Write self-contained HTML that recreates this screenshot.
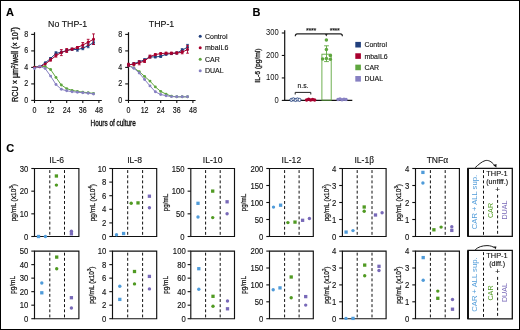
<!DOCTYPE html>
<html><head><meta charset="utf-8"><style>
html,body{margin:0;padding:0;background:#fff;}
svg{display:block;font-family:"Liberation Sans", sans-serif;will-change:transform;fill:#111;}
</style></head><body>
<svg width="520" height="330" viewBox="0 0 520 330">
<rect x="0" y="0" width="520" height="330" fill="#fff"/>
<text x="6.10" y="16.10" font-size="11" fill="#000" stroke="#000" stroke-width="0.12" font-weight="bold" >A</text>
<text x="252.60" y="16.10" font-size="11" fill="#000" stroke="#000" stroke-width="0.12" font-weight="bold" >B</text>
<text x="6.20" y="152.20" font-size="11" fill="#000" stroke="#000" stroke-width="0.12" font-weight="bold" >C</text>
<text transform="translate(67.60,26.90) scale(1,1.07)" font-size="8.8" text-anchor="middle" stroke="#111" stroke-width="0.12" >No THP-1</text>
<line x1="34.50" y1="32.20" x2="34.50" y2="101.00" stroke="#111" stroke-width="1.2" />
<line x1="33.90" y1="100.50" x2="101.80" y2="100.50" stroke="#111" stroke-width="1.2" />
<line x1="31.20" y1="100.40" x2="34.50" y2="100.40" stroke="#111" stroke-width="1.1" />
<text transform="translate(28.20,102.80) scale(1,1.2)" font-size="7.1" text-anchor="end" stroke="#111" stroke-width="0.12" >0</text>
<line x1="31.20" y1="83.90" x2="34.50" y2="83.90" stroke="#111" stroke-width="1.1" />
<text transform="translate(28.20,86.30) scale(1,1.2)" font-size="7.1" text-anchor="end" stroke="#111" stroke-width="0.12" >2</text>
<line x1="31.20" y1="67.40" x2="34.50" y2="67.40" stroke="#111" stroke-width="1.1" />
<text transform="translate(28.20,69.80) scale(1,1.2)" font-size="7.1" text-anchor="end" stroke="#111" stroke-width="0.12" >4</text>
<line x1="31.20" y1="50.90" x2="34.50" y2="50.90" stroke="#111" stroke-width="1.1" />
<text transform="translate(28.20,53.30) scale(1,1.2)" font-size="7.1" text-anchor="end" stroke="#111" stroke-width="0.12" >6</text>
<line x1="31.20" y1="34.40" x2="34.50" y2="34.40" stroke="#111" stroke-width="1.1" />
<text transform="translate(28.20,36.80) scale(1,1.2)" font-size="7.1" text-anchor="end" stroke="#111" stroke-width="0.12" >8</text>
<line x1="34.50" y1="100.50" x2="34.50" y2="103.00" stroke="#111" stroke-width="1.1" />
<text transform="translate(34.50,113.20) scale(1,1.2)" font-size="7.1" text-anchor="middle" stroke="#111" stroke-width="0.12" >0</text>
<line x1="50.60" y1="100.50" x2="50.60" y2="103.00" stroke="#111" stroke-width="1.1" />
<text transform="translate(50.60,113.20) scale(1,1.2)" font-size="7.1" text-anchor="middle" stroke="#111" stroke-width="0.12" >12</text>
<line x1="66.70" y1="100.50" x2="66.70" y2="103.00" stroke="#111" stroke-width="1.1" />
<text transform="translate(66.70,113.20) scale(1,1.2)" font-size="7.1" text-anchor="middle" stroke="#111" stroke-width="0.12" >24</text>
<line x1="82.80" y1="100.50" x2="82.80" y2="103.00" stroke="#111" stroke-width="1.1" />
<text transform="translate(82.80,113.20) scale(1,1.2)" font-size="7.1" text-anchor="middle" stroke="#111" stroke-width="0.12" >36</text>
<line x1="98.90" y1="100.50" x2="98.90" y2="103.00" stroke="#111" stroke-width="1.1" />
<text transform="translate(98.90,113.20) scale(1,1.2)" font-size="7.1" text-anchor="middle" stroke="#111" stroke-width="0.12" >48</text>
<polyline points="34.50,67.20 39.87,66.60 45.23,66.50 50.60,69.50 55.97,77.40 61.33,85.00 66.70,88.60 72.07,90.40 77.43,91.40 82.80,92.20 88.17,92.70 93.53,93.40" fill="none" stroke="#5fa63f" stroke-width="1"/>
<circle cx="34.50" cy="67.20" r="1.45" fill="#5fa63f"/>
<circle cx="39.87" cy="66.60" r="1.45" fill="#5fa63f"/>
<circle cx="45.23" cy="66.50" r="1.45" fill="#5fa63f"/>
<circle cx="50.60" cy="69.50" r="1.45" fill="#5fa63f"/>
<circle cx="55.97" cy="77.40" r="1.45" fill="#5fa63f"/>
<circle cx="61.33" cy="85.00" r="1.45" fill="#5fa63f"/>
<circle cx="66.70" cy="88.60" r="1.45" fill="#5fa63f"/>
<circle cx="72.07" cy="90.40" r="1.45" fill="#5fa63f"/>
<circle cx="77.43" cy="91.40" r="1.45" fill="#5fa63f"/>
<circle cx="82.80" cy="92.20" r="1.45" fill="#5fa63f"/>
<circle cx="88.17" cy="92.70" r="1.45" fill="#5fa63f"/>
<circle cx="93.53" cy="93.40" r="1.45" fill="#5fa63f"/>
<polyline points="34.50,67.40 39.87,66.70 45.23,62.80 50.60,58.50 55.97,53.30 61.33,52.30 66.70,50.50 72.07,49.30 77.43,49.60 82.80,48.20 88.17,45.70 93.53,42.70" fill="none" stroke="#213f7d" stroke-width="1"/>
<line x1="50.60" y1="57.50" x2="50.60" y2="59.50" stroke="#213f7d" stroke-width="0.9" />
<line x1="49.20" y1="57.50" x2="52.00" y2="57.50" stroke="#213f7d" stroke-width="0.9" />
<line x1="49.20" y1="59.50" x2="52.00" y2="59.50" stroke="#213f7d" stroke-width="0.9" />
<line x1="55.97" y1="51.80" x2="55.97" y2="54.80" stroke="#213f7d" stroke-width="0.9" />
<line x1="54.57" y1="51.80" x2="57.37" y2="51.80" stroke="#213f7d" stroke-width="0.9" />
<line x1="54.57" y1="54.80" x2="57.37" y2="54.80" stroke="#213f7d" stroke-width="0.9" />
<line x1="61.33" y1="51.30" x2="61.33" y2="53.30" stroke="#213f7d" stroke-width="0.9" />
<line x1="59.93" y1="51.30" x2="62.73" y2="51.30" stroke="#213f7d" stroke-width="0.9" />
<line x1="59.93" y1="53.30" x2="62.73" y2="53.30" stroke="#213f7d" stroke-width="0.9" />
<line x1="66.70" y1="49.50" x2="66.70" y2="51.50" stroke="#213f7d" stroke-width="0.9" />
<line x1="65.30" y1="49.50" x2="68.10" y2="49.50" stroke="#213f7d" stroke-width="0.9" />
<line x1="65.30" y1="51.50" x2="68.10" y2="51.50" stroke="#213f7d" stroke-width="0.9" />
<line x1="72.07" y1="48.30" x2="72.07" y2="50.30" stroke="#213f7d" stroke-width="0.9" />
<line x1="70.67" y1="48.30" x2="73.47" y2="48.30" stroke="#213f7d" stroke-width="0.9" />
<line x1="70.67" y1="50.30" x2="73.47" y2="50.30" stroke="#213f7d" stroke-width="0.9" />
<line x1="77.43" y1="48.10" x2="77.43" y2="51.10" stroke="#213f7d" stroke-width="0.9" />
<line x1="76.03" y1="48.10" x2="78.83" y2="48.10" stroke="#213f7d" stroke-width="0.9" />
<line x1="76.03" y1="51.10" x2="78.83" y2="51.10" stroke="#213f7d" stroke-width="0.9" />
<line x1="82.80" y1="46.70" x2="82.80" y2="49.70" stroke="#213f7d" stroke-width="0.9" />
<line x1="81.40" y1="46.70" x2="84.20" y2="46.70" stroke="#213f7d" stroke-width="0.9" />
<line x1="81.40" y1="49.70" x2="84.20" y2="49.70" stroke="#213f7d" stroke-width="0.9" />
<line x1="88.17" y1="43.70" x2="88.17" y2="47.70" stroke="#213f7d" stroke-width="0.9" />
<line x1="86.77" y1="43.70" x2="89.57" y2="43.70" stroke="#213f7d" stroke-width="0.9" />
<line x1="86.77" y1="47.70" x2="89.57" y2="47.70" stroke="#213f7d" stroke-width="0.9" />
<line x1="93.53" y1="40.90" x2="93.53" y2="44.50" stroke="#213f7d" stroke-width="0.9" />
<line x1="92.13" y1="40.90" x2="94.93" y2="40.90" stroke="#213f7d" stroke-width="0.9" />
<line x1="92.13" y1="44.50" x2="94.93" y2="44.50" stroke="#213f7d" stroke-width="0.9" />
<circle cx="34.50" cy="67.40" r="1.45" fill="#213f7d"/>
<circle cx="39.87" cy="66.70" r="1.45" fill="#213f7d"/>
<circle cx="45.23" cy="62.80" r="1.45" fill="#213f7d"/>
<circle cx="50.60" cy="58.50" r="1.45" fill="#213f7d"/>
<circle cx="55.97" cy="53.30" r="1.45" fill="#213f7d"/>
<circle cx="61.33" cy="52.30" r="1.45" fill="#213f7d"/>
<circle cx="66.70" cy="50.50" r="1.45" fill="#213f7d"/>
<circle cx="72.07" cy="49.30" r="1.45" fill="#213f7d"/>
<circle cx="77.43" cy="49.60" r="1.45" fill="#213f7d"/>
<circle cx="82.80" cy="48.20" r="1.45" fill="#213f7d"/>
<circle cx="88.17" cy="45.70" r="1.45" fill="#213f7d"/>
<circle cx="93.53" cy="42.70" r="1.45" fill="#213f7d"/>
<polyline points="34.50,67.40 39.87,66.80 45.23,64.10 50.60,60.00 55.97,55.60 61.33,52.60 66.70,50.50 72.07,49.10 77.43,47.50 82.80,45.00 88.17,42.30 93.53,39.20" fill="none" stroke="#a8002e" stroke-width="1"/>
<line x1="50.60" y1="59.00" x2="50.60" y2="61.00" stroke="#a8002e" stroke-width="0.9" />
<line x1="49.20" y1="59.00" x2="52.00" y2="59.00" stroke="#a8002e" stroke-width="0.9" />
<line x1="49.20" y1="61.00" x2="52.00" y2="61.00" stroke="#a8002e" stroke-width="0.9" />
<line x1="55.97" y1="54.10" x2="55.97" y2="57.10" stroke="#a8002e" stroke-width="0.9" />
<line x1="54.57" y1="54.10" x2="57.37" y2="54.10" stroke="#a8002e" stroke-width="0.9" />
<line x1="54.57" y1="57.10" x2="57.37" y2="57.10" stroke="#a8002e" stroke-width="0.9" />
<line x1="61.33" y1="49.60" x2="61.33" y2="55.60" stroke="#a8002e" stroke-width="0.9" />
<line x1="59.93" y1="49.60" x2="62.73" y2="49.60" stroke="#a8002e" stroke-width="0.9" />
<line x1="59.93" y1="55.60" x2="62.73" y2="55.60" stroke="#a8002e" stroke-width="0.9" />
<line x1="66.70" y1="48.50" x2="66.70" y2="52.50" stroke="#a8002e" stroke-width="0.9" />
<line x1="65.30" y1="48.50" x2="68.10" y2="48.50" stroke="#a8002e" stroke-width="0.9" />
<line x1="65.30" y1="52.50" x2="68.10" y2="52.50" stroke="#a8002e" stroke-width="0.9" />
<line x1="72.07" y1="48.10" x2="72.07" y2="50.10" stroke="#a8002e" stroke-width="0.9" />
<line x1="70.67" y1="48.10" x2="73.47" y2="48.10" stroke="#a8002e" stroke-width="0.9" />
<line x1="70.67" y1="50.10" x2="73.47" y2="50.10" stroke="#a8002e" stroke-width="0.9" />
<line x1="77.43" y1="46.50" x2="77.43" y2="48.50" stroke="#a8002e" stroke-width="0.9" />
<line x1="76.03" y1="46.50" x2="78.83" y2="46.50" stroke="#a8002e" stroke-width="0.9" />
<line x1="76.03" y1="48.50" x2="78.83" y2="48.50" stroke="#a8002e" stroke-width="0.9" />
<line x1="82.80" y1="42.50" x2="82.80" y2="47.50" stroke="#a8002e" stroke-width="0.9" />
<line x1="81.40" y1="42.50" x2="84.20" y2="42.50" stroke="#a8002e" stroke-width="0.9" />
<line x1="81.40" y1="47.50" x2="84.20" y2="47.50" stroke="#a8002e" stroke-width="0.9" />
<line x1="88.17" y1="39.30" x2="88.17" y2="45.30" stroke="#a8002e" stroke-width="0.9" />
<line x1="86.77" y1="39.30" x2="89.57" y2="39.30" stroke="#a8002e" stroke-width="0.9" />
<line x1="86.77" y1="45.30" x2="89.57" y2="45.30" stroke="#a8002e" stroke-width="0.9" />
<line x1="93.53" y1="33.90" x2="93.53" y2="44.50" stroke="#a8002e" stroke-width="0.9" />
<line x1="92.13" y1="33.90" x2="94.93" y2="33.90" stroke="#a8002e" stroke-width="0.9" />
<line x1="92.13" y1="44.50" x2="94.93" y2="44.50" stroke="#a8002e" stroke-width="0.9" />
<circle cx="34.50" cy="67.40" r="1.45" fill="#a8002e"/>
<circle cx="39.87" cy="66.80" r="1.45" fill="#a8002e"/>
<circle cx="45.23" cy="64.10" r="1.45" fill="#a8002e"/>
<circle cx="50.60" cy="60.00" r="1.45" fill="#a8002e"/>
<circle cx="55.97" cy="55.60" r="1.45" fill="#a8002e"/>
<circle cx="61.33" cy="52.60" r="1.45" fill="#a8002e"/>
<circle cx="66.70" cy="50.50" r="1.45" fill="#a8002e"/>
<circle cx="72.07" cy="49.10" r="1.45" fill="#a8002e"/>
<circle cx="77.43" cy="47.50" r="1.45" fill="#a8002e"/>
<circle cx="82.80" cy="45.00" r="1.45" fill="#a8002e"/>
<circle cx="88.17" cy="42.30" r="1.45" fill="#a8002e"/>
<circle cx="93.53" cy="39.20" r="1.45" fill="#a8002e"/>
<polyline points="34.50,68.50 39.87,66.30 45.23,68.60 50.60,76.10 55.97,84.50 61.33,89.30 66.70,90.80 72.07,91.70 77.43,92.30 82.80,92.70 88.17,93.20 93.53,94.00" fill="none" stroke="#8780c2" stroke-width="1"/>
<circle cx="34.50" cy="68.50" r="1.45" fill="#8780c2"/>
<circle cx="39.87" cy="66.30" r="1.45" fill="#8780c2"/>
<circle cx="45.23" cy="68.60" r="1.45" fill="#8780c2"/>
<circle cx="50.60" cy="76.10" r="1.45" fill="#8780c2"/>
<circle cx="55.97" cy="84.50" r="1.45" fill="#8780c2"/>
<circle cx="61.33" cy="89.30" r="1.45" fill="#8780c2"/>
<circle cx="66.70" cy="90.80" r="1.45" fill="#8780c2"/>
<circle cx="72.07" cy="91.70" r="1.45" fill="#8780c2"/>
<circle cx="77.43" cy="92.30" r="1.45" fill="#8780c2"/>
<circle cx="82.80" cy="92.70" r="1.45" fill="#8780c2"/>
<circle cx="88.17" cy="93.20" r="1.45" fill="#8780c2"/>
<circle cx="93.53" cy="94.00" r="1.45" fill="#8780c2"/>
<text transform="translate(161.50,26.90) scale(1,1.07)" font-size="8.8" text-anchor="middle" stroke="#111" stroke-width="0.12" >THP-1</text>
<line x1="128.50" y1="32.20" x2="128.50" y2="101.00" stroke="#111" stroke-width="1.2" />
<line x1="127.90" y1="100.50" x2="195.60" y2="100.50" stroke="#111" stroke-width="1.2" />
<line x1="125.20" y1="100.40" x2="128.50" y2="100.40" stroke="#111" stroke-width="1.1" />
<text transform="translate(122.20,102.80) scale(1,1.2)" font-size="7.1" text-anchor="end" stroke="#111" stroke-width="0.12" >0</text>
<line x1="125.20" y1="83.90" x2="128.50" y2="83.90" stroke="#111" stroke-width="1.1" />
<text transform="translate(122.20,86.30) scale(1,1.2)" font-size="7.1" text-anchor="end" stroke="#111" stroke-width="0.12" >2</text>
<line x1="125.20" y1="67.40" x2="128.50" y2="67.40" stroke="#111" stroke-width="1.1" />
<text transform="translate(122.20,69.80) scale(1,1.2)" font-size="7.1" text-anchor="end" stroke="#111" stroke-width="0.12" >4</text>
<line x1="125.20" y1="50.90" x2="128.50" y2="50.90" stroke="#111" stroke-width="1.1" />
<text transform="translate(122.20,53.30) scale(1,1.2)" font-size="7.1" text-anchor="end" stroke="#111" stroke-width="0.12" >6</text>
<line x1="125.20" y1="34.40" x2="128.50" y2="34.40" stroke="#111" stroke-width="1.1" />
<text transform="translate(122.20,36.80) scale(1,1.2)" font-size="7.1" text-anchor="end" stroke="#111" stroke-width="0.12" >8</text>
<line x1="128.50" y1="100.50" x2="128.50" y2="103.00" stroke="#111" stroke-width="1.1" />
<text transform="translate(128.50,113.20) scale(1,1.2)" font-size="7.1" text-anchor="middle" stroke="#111" stroke-width="0.12" >0</text>
<line x1="144.60" y1="100.50" x2="144.60" y2="103.00" stroke="#111" stroke-width="1.1" />
<text transform="translate(144.60,113.20) scale(1,1.2)" font-size="7.1" text-anchor="middle" stroke="#111" stroke-width="0.12" >12</text>
<line x1="160.70" y1="100.50" x2="160.70" y2="103.00" stroke="#111" stroke-width="1.1" />
<text transform="translate(160.70,113.20) scale(1,1.2)" font-size="7.1" text-anchor="middle" stroke="#111" stroke-width="0.12" >24</text>
<line x1="176.80" y1="100.50" x2="176.80" y2="103.00" stroke="#111" stroke-width="1.1" />
<text transform="translate(176.80,113.20) scale(1,1.2)" font-size="7.1" text-anchor="middle" stroke="#111" stroke-width="0.12" >36</text>
<line x1="192.90" y1="100.50" x2="192.90" y2="103.00" stroke="#111" stroke-width="1.1" />
<text transform="translate(192.90,113.20) scale(1,1.2)" font-size="7.1" text-anchor="middle" stroke="#111" stroke-width="0.12" >48</text>
<polyline points="128.50,65.50 133.87,67.90 139.23,71.60 144.60,76.40 149.97,81.10 155.33,86.90 160.70,91.40 166.07,94.10 171.43,96.20 176.80,96.80 182.17,96.80 187.53,96.80" fill="none" stroke="#5fa63f" stroke-width="1"/>
<circle cx="128.50" cy="65.50" r="1.45" fill="#5fa63f"/>
<circle cx="133.87" cy="67.90" r="1.45" fill="#5fa63f"/>
<circle cx="139.23" cy="71.60" r="1.45" fill="#5fa63f"/>
<circle cx="144.60" cy="76.40" r="1.45" fill="#5fa63f"/>
<circle cx="149.97" cy="81.10" r="1.45" fill="#5fa63f"/>
<circle cx="155.33" cy="86.90" r="1.45" fill="#5fa63f"/>
<circle cx="160.70" cy="91.40" r="1.45" fill="#5fa63f"/>
<circle cx="166.07" cy="94.10" r="1.45" fill="#5fa63f"/>
<circle cx="171.43" cy="96.20" r="1.45" fill="#5fa63f"/>
<circle cx="176.80" cy="96.80" r="1.45" fill="#5fa63f"/>
<circle cx="182.17" cy="96.80" r="1.45" fill="#5fa63f"/>
<circle cx="187.53" cy="96.80" r="1.45" fill="#5fa63f"/>
<polyline points="128.50,65.70 133.87,68.20 139.23,73.00 144.60,79.50 149.97,85.90 155.33,91.80 160.70,94.50 166.07,95.70 171.43,96.60 176.80,96.80 182.17,96.80 187.53,96.80" fill="none" stroke="#8780c2" stroke-width="1"/>
<circle cx="128.50" cy="65.70" r="1.45" fill="#8780c2"/>
<circle cx="133.87" cy="68.20" r="1.45" fill="#8780c2"/>
<circle cx="139.23" cy="73.00" r="1.45" fill="#8780c2"/>
<circle cx="144.60" cy="79.50" r="1.45" fill="#8780c2"/>
<circle cx="149.97" cy="85.90" r="1.45" fill="#8780c2"/>
<circle cx="155.33" cy="91.80" r="1.45" fill="#8780c2"/>
<circle cx="160.70" cy="94.50" r="1.45" fill="#8780c2"/>
<circle cx="166.07" cy="95.70" r="1.45" fill="#8780c2"/>
<circle cx="171.43" cy="96.60" r="1.45" fill="#8780c2"/>
<circle cx="176.80" cy="96.80" r="1.45" fill="#8780c2"/>
<circle cx="182.17" cy="96.80" r="1.45" fill="#8780c2"/>
<circle cx="187.53" cy="96.80" r="1.45" fill="#8780c2"/>
<polyline points="128.50,65.10 133.87,63.70 139.23,61.80 144.60,59.80 149.97,56.90 155.33,56.90 160.70,56.40 166.07,54.20 171.43,53.60 176.80,53.00 182.17,50.20 187.53,47.20" fill="none" stroke="#213f7d" stroke-width="1"/>
<line x1="128.50" y1="64.10" x2="128.50" y2="66.10" stroke="#213f7d" stroke-width="0.9" />
<line x1="127.10" y1="64.10" x2="129.90" y2="64.10" stroke="#213f7d" stroke-width="0.9" />
<line x1="127.10" y1="66.10" x2="129.90" y2="66.10" stroke="#213f7d" stroke-width="0.9" />
<line x1="133.87" y1="62.70" x2="133.87" y2="64.70" stroke="#213f7d" stroke-width="0.9" />
<line x1="132.47" y1="62.70" x2="135.27" y2="62.70" stroke="#213f7d" stroke-width="0.9" />
<line x1="132.47" y1="64.70" x2="135.27" y2="64.70" stroke="#213f7d" stroke-width="0.9" />
<line x1="139.23" y1="60.80" x2="139.23" y2="62.80" stroke="#213f7d" stroke-width="0.9" />
<line x1="137.83" y1="60.80" x2="140.63" y2="60.80" stroke="#213f7d" stroke-width="0.9" />
<line x1="137.83" y1="62.80" x2="140.63" y2="62.80" stroke="#213f7d" stroke-width="0.9" />
<line x1="144.60" y1="58.80" x2="144.60" y2="60.80" stroke="#213f7d" stroke-width="0.9" />
<line x1="143.20" y1="58.80" x2="146.00" y2="58.80" stroke="#213f7d" stroke-width="0.9" />
<line x1="143.20" y1="60.80" x2="146.00" y2="60.80" stroke="#213f7d" stroke-width="0.9" />
<line x1="149.97" y1="55.90" x2="149.97" y2="57.90" stroke="#213f7d" stroke-width="0.9" />
<line x1="148.57" y1="55.90" x2="151.37" y2="55.90" stroke="#213f7d" stroke-width="0.9" />
<line x1="148.57" y1="57.90" x2="151.37" y2="57.90" stroke="#213f7d" stroke-width="0.9" />
<line x1="155.33" y1="55.90" x2="155.33" y2="57.90" stroke="#213f7d" stroke-width="0.9" />
<line x1="153.93" y1="55.90" x2="156.73" y2="55.90" stroke="#213f7d" stroke-width="0.9" />
<line x1="153.93" y1="57.90" x2="156.73" y2="57.90" stroke="#213f7d" stroke-width="0.9" />
<line x1="160.70" y1="55.40" x2="160.70" y2="57.40" stroke="#213f7d" stroke-width="0.9" />
<line x1="159.30" y1="55.40" x2="162.10" y2="55.40" stroke="#213f7d" stroke-width="0.9" />
<line x1="159.30" y1="57.40" x2="162.10" y2="57.40" stroke="#213f7d" stroke-width="0.9" />
<line x1="166.07" y1="53.20" x2="166.07" y2="55.20" stroke="#213f7d" stroke-width="0.9" />
<line x1="164.67" y1="53.20" x2="167.47" y2="53.20" stroke="#213f7d" stroke-width="0.9" />
<line x1="164.67" y1="55.20" x2="167.47" y2="55.20" stroke="#213f7d" stroke-width="0.9" />
<line x1="171.43" y1="52.60" x2="171.43" y2="54.60" stroke="#213f7d" stroke-width="0.9" />
<line x1="170.03" y1="52.60" x2="172.83" y2="52.60" stroke="#213f7d" stroke-width="0.9" />
<line x1="170.03" y1="54.60" x2="172.83" y2="54.60" stroke="#213f7d" stroke-width="0.9" />
<line x1="176.80" y1="52.00" x2="176.80" y2="54.00" stroke="#213f7d" stroke-width="0.9" />
<line x1="175.40" y1="52.00" x2="178.20" y2="52.00" stroke="#213f7d" stroke-width="0.9" />
<line x1="175.40" y1="54.00" x2="178.20" y2="54.00" stroke="#213f7d" stroke-width="0.9" />
<line x1="182.17" y1="48.70" x2="182.17" y2="51.70" stroke="#213f7d" stroke-width="0.9" />
<line x1="180.77" y1="48.70" x2="183.57" y2="48.70" stroke="#213f7d" stroke-width="0.9" />
<line x1="180.77" y1="51.70" x2="183.57" y2="51.70" stroke="#213f7d" stroke-width="0.9" />
<line x1="187.53" y1="44.40" x2="187.53" y2="50.00" stroke="#213f7d" stroke-width="0.9" />
<line x1="186.13" y1="44.40" x2="188.93" y2="44.40" stroke="#213f7d" stroke-width="0.9" />
<line x1="186.13" y1="50.00" x2="188.93" y2="50.00" stroke="#213f7d" stroke-width="0.9" />
<circle cx="128.50" cy="65.10" r="1.45" fill="#213f7d"/>
<circle cx="133.87" cy="63.70" r="1.45" fill="#213f7d"/>
<circle cx="139.23" cy="61.80" r="1.45" fill="#213f7d"/>
<circle cx="144.60" cy="59.80" r="1.45" fill="#213f7d"/>
<circle cx="149.97" cy="56.90" r="1.45" fill="#213f7d"/>
<circle cx="155.33" cy="56.90" r="1.45" fill="#213f7d"/>
<circle cx="160.70" cy="56.40" r="1.45" fill="#213f7d"/>
<circle cx="166.07" cy="54.20" r="1.45" fill="#213f7d"/>
<circle cx="171.43" cy="53.60" r="1.45" fill="#213f7d"/>
<circle cx="176.80" cy="53.00" r="1.45" fill="#213f7d"/>
<circle cx="182.17" cy="50.20" r="1.45" fill="#213f7d"/>
<circle cx="187.53" cy="47.20" r="1.45" fill="#213f7d"/>
<polyline points="128.50,64.80 133.87,64.20 139.23,62.80 144.60,61.00 149.97,56.60 155.33,54.60 160.70,53.60 166.07,53.20 171.43,53.20 176.80,53.00 182.17,52.30 187.53,49.40" fill="none" stroke="#a8002e" stroke-width="1"/>
<line x1="128.50" y1="63.30" x2="128.50" y2="66.30" stroke="#a8002e" stroke-width="0.9" />
<line x1="127.10" y1="63.30" x2="129.90" y2="63.30" stroke="#a8002e" stroke-width="0.9" />
<line x1="127.10" y1="66.30" x2="129.90" y2="66.30" stroke="#a8002e" stroke-width="0.9" />
<line x1="133.87" y1="62.70" x2="133.87" y2="65.70" stroke="#a8002e" stroke-width="0.9" />
<line x1="132.47" y1="62.70" x2="135.27" y2="62.70" stroke="#a8002e" stroke-width="0.9" />
<line x1="132.47" y1="65.70" x2="135.27" y2="65.70" stroke="#a8002e" stroke-width="0.9" />
<line x1="139.23" y1="60.80" x2="139.23" y2="64.80" stroke="#a8002e" stroke-width="0.9" />
<line x1="137.83" y1="60.80" x2="140.63" y2="60.80" stroke="#a8002e" stroke-width="0.9" />
<line x1="137.83" y1="64.80" x2="140.63" y2="64.80" stroke="#a8002e" stroke-width="0.9" />
<line x1="144.60" y1="59.50" x2="144.60" y2="62.50" stroke="#a8002e" stroke-width="0.9" />
<line x1="143.20" y1="59.50" x2="146.00" y2="59.50" stroke="#a8002e" stroke-width="0.9" />
<line x1="143.20" y1="62.50" x2="146.00" y2="62.50" stroke="#a8002e" stroke-width="0.9" />
<line x1="149.97" y1="55.10" x2="149.97" y2="58.10" stroke="#a8002e" stroke-width="0.9" />
<line x1="148.57" y1="55.10" x2="151.37" y2="55.10" stroke="#a8002e" stroke-width="0.9" />
<line x1="148.57" y1="58.10" x2="151.37" y2="58.10" stroke="#a8002e" stroke-width="0.9" />
<line x1="155.33" y1="53.60" x2="155.33" y2="55.60" stroke="#a8002e" stroke-width="0.9" />
<line x1="153.93" y1="53.60" x2="156.73" y2="53.60" stroke="#a8002e" stroke-width="0.9" />
<line x1="153.93" y1="55.60" x2="156.73" y2="55.60" stroke="#a8002e" stroke-width="0.9" />
<line x1="160.70" y1="52.60" x2="160.70" y2="54.60" stroke="#a8002e" stroke-width="0.9" />
<line x1="159.30" y1="52.60" x2="162.10" y2="52.60" stroke="#a8002e" stroke-width="0.9" />
<line x1="159.30" y1="54.60" x2="162.10" y2="54.60" stroke="#a8002e" stroke-width="0.9" />
<line x1="166.07" y1="52.20" x2="166.07" y2="54.20" stroke="#a8002e" stroke-width="0.9" />
<line x1="164.67" y1="52.20" x2="167.47" y2="52.20" stroke="#a8002e" stroke-width="0.9" />
<line x1="164.67" y1="54.20" x2="167.47" y2="54.20" stroke="#a8002e" stroke-width="0.9" />
<line x1="171.43" y1="52.20" x2="171.43" y2="54.20" stroke="#a8002e" stroke-width="0.9" />
<line x1="170.03" y1="52.20" x2="172.83" y2="52.20" stroke="#a8002e" stroke-width="0.9" />
<line x1="170.03" y1="54.20" x2="172.83" y2="54.20" stroke="#a8002e" stroke-width="0.9" />
<line x1="176.80" y1="52.00" x2="176.80" y2="54.00" stroke="#a8002e" stroke-width="0.9" />
<line x1="175.40" y1="52.00" x2="178.20" y2="52.00" stroke="#a8002e" stroke-width="0.9" />
<line x1="175.40" y1="54.00" x2="178.20" y2="54.00" stroke="#a8002e" stroke-width="0.9" />
<line x1="182.17" y1="50.80" x2="182.17" y2="53.80" stroke="#a8002e" stroke-width="0.9" />
<line x1="180.77" y1="50.80" x2="183.57" y2="50.80" stroke="#a8002e" stroke-width="0.9" />
<line x1="180.77" y1="53.80" x2="183.57" y2="53.80" stroke="#a8002e" stroke-width="0.9" />
<line x1="187.53" y1="45.60" x2="187.53" y2="53.20" stroke="#a8002e" stroke-width="0.9" />
<line x1="186.13" y1="45.60" x2="188.93" y2="45.60" stroke="#a8002e" stroke-width="0.9" />
<line x1="186.13" y1="53.20" x2="188.93" y2="53.20" stroke="#a8002e" stroke-width="0.9" />
<circle cx="128.50" cy="64.80" r="1.45" fill="#a8002e"/>
<circle cx="133.87" cy="64.20" r="1.45" fill="#a8002e"/>
<circle cx="139.23" cy="62.80" r="1.45" fill="#a8002e"/>
<circle cx="144.60" cy="61.00" r="1.45" fill="#a8002e"/>
<circle cx="149.97" cy="56.60" r="1.45" fill="#a8002e"/>
<circle cx="155.33" cy="54.60" r="1.45" fill="#a8002e"/>
<circle cx="160.70" cy="53.60" r="1.45" fill="#a8002e"/>
<circle cx="166.07" cy="53.20" r="1.45" fill="#a8002e"/>
<circle cx="171.43" cy="53.20" r="1.45" fill="#a8002e"/>
<circle cx="176.80" cy="53.00" r="1.45" fill="#a8002e"/>
<circle cx="182.17" cy="52.30" r="1.45" fill="#a8002e"/>
<circle cx="187.53" cy="49.40" r="1.45" fill="#a8002e"/>
<text x="90.60" y="126.00" font-size="9.6" textLength="45.2" lengthAdjust="spacingAndGlyphs" stroke="#111" stroke-width="0.38">Hours of culture</text>
<text transform="translate(17.9,102) rotate(-90)" font-size="8.2" textLength="75" lengthAdjust="spacingAndGlyphs" stroke="#111" stroke-width="0.32">RCU × µm<tspan font-size="5.5" dy="-3">2</tspan><tspan dy="3">/well (× 10</tspan><tspan font-size="5.5" dy="-3">7</tspan><tspan dy="3">)</tspan></text>
<circle cx="200.20" cy="36.20" r="1.5" fill="#213f7d"/>
<text x="205.00" y="38.70" font-size="7" stroke="#111" stroke-width="0.12" >Control</text>
<circle cx="200.20" cy="47.75" r="1.5" fill="#a8002e"/>
<text x="205.00" y="50.25" font-size="7" stroke="#111" stroke-width="0.12" >mbaIL6</text>
<circle cx="200.20" cy="59.30" r="1.5" fill="#5fa63f"/>
<text x="205.00" y="61.80" font-size="7" stroke="#111" stroke-width="0.12" >CAR</text>
<circle cx="200.20" cy="70.85" r="1.5" fill="#8780c2"/>
<text x="205.00" y="73.35" font-size="7" stroke="#111" stroke-width="0.12" >DUAL</text>
<line x1="284.70" y1="30.30" x2="284.70" y2="101.00" stroke="#111" stroke-width="1.2" />
<line x1="284.10" y1="100.40" x2="352.30" y2="100.40" stroke="#111" stroke-width="1.2" />
<line x1="281.80" y1="100.40" x2="284.70" y2="100.40" stroke="#111" stroke-width="1.1" />
<text transform="translate(278.70,102.50) scale(1,1.15)" font-size="7.6" text-anchor="end" stroke="none">0</text>
<line x1="281.80" y1="77.93" x2="284.70" y2="77.93" stroke="#111" stroke-width="1.1" />
<text transform="translate(278.70,80.03) scale(1,1.15)" font-size="7.6" text-anchor="end" stroke="none">100</text>
<line x1="281.80" y1="55.46" x2="284.70" y2="55.46" stroke="#111" stroke-width="1.1" />
<text transform="translate(278.70,57.56) scale(1,1.15)" font-size="7.6" text-anchor="end" stroke="none">200</text>
<line x1="281.80" y1="32.99" x2="284.70" y2="32.99" stroke="#111" stroke-width="1.1" />
<text transform="translate(278.70,35.09) scale(1,1.15)" font-size="7.6" text-anchor="end" stroke="none">300</text>
<text transform="translate(259.7,82.7) rotate(-90)" font-size="7.8" textLength="34.3" lengthAdjust="spacingAndGlyphs" stroke="#111" stroke-width="0.3">IL-6 (pg/ml)</text>
<rect x="321.90" y="54.20" width="9.30" height="46.00" fill="none" stroke="#5fa63f" stroke-width="0.9"/>
<line x1="326.50" y1="45.80" x2="326.50" y2="61.60" stroke="#5fa63f" stroke-width="0.9" />
<line x1="324.10" y1="45.80" x2="328.90" y2="45.80" stroke="#5fa63f" stroke-width="0.9" />
<line x1="324.10" y1="61.60" x2="328.90" y2="61.60" stroke="#5fa63f" stroke-width="0.9" />
<circle cx="326.40" cy="40.00" r="1.75" fill="#5fa63f"/>
<circle cx="326.40" cy="49.50" r="1.75" fill="#5fa63f"/>
<circle cx="330.30" cy="55.40" r="1.75" fill="#5fa63f"/>
<circle cx="322.60" cy="59.10" r="1.75" fill="#5fa63f"/>
<circle cx="326.40" cy="58.50" r="1.75" fill="#5fa63f"/>
<circle cx="330.30" cy="59.20" r="1.75" fill="#5fa63f"/>
<circle cx="291.4" cy="99.9" r="1.55" fill="#fff" stroke="#213f7d" stroke-width="0.9"/>
<circle cx="293.4" cy="99.3" r="1.55" fill="#fff" stroke="#213f7d" stroke-width="0.9"/>
<circle cx="295.5" cy="100.0" r="1.55" fill="#fff" stroke="#213f7d" stroke-width="0.9"/>
<circle cx="297.5" cy="99.4" r="1.55" fill="#fff" stroke="#213f7d" stroke-width="0.9"/>
<circle cx="299.5" cy="99.9" r="1.55" fill="#fff" stroke="#213f7d" stroke-width="0.9"/>
<circle cx="306.60" cy="99.90" r="1.75" fill="#a8002e"/>
<circle cx="308.60" cy="99.30" r="1.75" fill="#a8002e"/>
<circle cx="310.60" cy="100.00" r="1.75" fill="#a8002e"/>
<circle cx="312.60" cy="99.40" r="1.75" fill="#a8002e"/>
<circle cx="314.60" cy="99.90" r="1.75" fill="#a8002e"/>
<circle cx="338.00" cy="99.60" r="1.75" fill="#8780c2"/>
<circle cx="340.00" cy="99.10" r="1.75" fill="#8780c2"/>
<circle cx="342.00" cy="99.70" r="1.75" fill="#8780c2"/>
<circle cx="344.00" cy="99.20" r="1.75" fill="#8780c2"/>
<circle cx="346.00" cy="99.60" r="1.75" fill="#8780c2"/>
<path d="M295.2,94.5 L295.2,92.4 L310.8,92.4 L310.8,94.5" fill="none" stroke="#222" stroke-width="1"/>
<text transform="translate(303.00,88.30) scale(1,1.1)" font-size="6.8" text-anchor="middle" stroke="#111" stroke-width="0.12" >n.s.</text>
<path d="M295.3,36.2 Q295.3,33.9 297.3,33.9 L340.4,33.9 Q342.4,33.9 342.4,36.2" fill="none" stroke="#222" stroke-width="1.15"/>
<path d="M325.0,33.9 L326.3,36.6 L327.6,33.9 Z" fill="#222"/>
<text x="311.00" y="33.20" font-size="7.2" text-anchor="middle" stroke="#111" stroke-width="0.12" letter-spacing="-0.35">****</text>
<text x="334.60" y="33.20" font-size="7.2" text-anchor="middle" stroke="#111" stroke-width="0.12" letter-spacing="-0.35">****</text>
<rect x="355.30" y="41.90" width="5.60" height="5.60" fill="#213f7d" stroke="none" stroke-width="1"/>
<text x="364.40" y="47.20" font-size="7" stroke="#111" stroke-width="0.12" >Control</text>
<rect x="355.30" y="53.27" width="5.60" height="5.60" fill="#a8002e" stroke="none" stroke-width="1"/>
<text x="364.40" y="58.57" font-size="7" stroke="#111" stroke-width="0.12" >mbaIL6</text>
<rect x="355.30" y="64.64" width="5.60" height="5.60" fill="#5fa63f" stroke="none" stroke-width="1"/>
<text x="364.40" y="69.94" font-size="7" stroke="#111" stroke-width="0.12" >CAR</text>
<rect x="355.30" y="76.01" width="5.60" height="5.60" fill="#8780c2" stroke="none" stroke-width="1"/>
<text x="364.40" y="81.31" font-size="7" stroke="#111" stroke-width="0.12" >DUAL</text>
<line x1="49.80" y1="170.10" x2="49.80" y2="236.50" stroke="#111" stroke-width="1" stroke-dasharray="2.9 2.25"/>
<line x1="64.50" y1="170.10" x2="64.50" y2="236.50" stroke="#111" stroke-width="1" stroke-dasharray="2.9 2.25"/>
<path d="M34.5,168.5 L78.9,168.5 L78.9,236.5 L34.5,236.5 Z" fill="none" stroke="#111" stroke-width="1.15"/>
<line x1="31.30" y1="236.50" x2="34.50" y2="236.50" stroke="#111" stroke-width="1.1" />
<text transform="translate(28.30,239.60) scale(1,1.1)" font-size="7.7" text-anchor="end" stroke="#111" stroke-width="0.12" >0</text>
<line x1="31.30" y1="213.83" x2="34.50" y2="213.83" stroke="#111" stroke-width="1.1" />
<text transform="translate(28.30,216.93) scale(1,1.1)" font-size="7.7" text-anchor="end" stroke="#111" stroke-width="0.12" >10</text>
<line x1="31.30" y1="191.17" x2="34.50" y2="191.17" stroke="#111" stroke-width="1.1" />
<text transform="translate(28.30,194.27) scale(1,1.1)" font-size="7.7" text-anchor="end" stroke="#111" stroke-width="0.12" >20</text>
<line x1="31.30" y1="168.50" x2="34.50" y2="168.50" stroke="#111" stroke-width="1.1" />
<text transform="translate(28.30,171.60) scale(1,1.1)" font-size="7.7" text-anchor="end" stroke="#111" stroke-width="0.12" >30</text>
<text class="ylab" stroke="#111" stroke-width="0.22" transform="translate(16.05,202.7) rotate(-90)" font-size="7.9" text-anchor="middle" textLength="37.2" lengthAdjust="spacingAndGlyphs">pg/mL (x10<tspan font-size="5" dy="-2.9">3</tspan><tspan dy="2.9">)</tspan></text>
<text x="56.70" y="163.40" font-size="8.6" text-anchor="middle" stroke="#111" stroke-width="0.12" >IL-6</text>
<line x1="49.80" y1="252.70" x2="49.80" y2="318.70" stroke="#111" stroke-width="1" stroke-dasharray="2.9 2.25"/>
<line x1="64.50" y1="252.70" x2="64.50" y2="318.70" stroke="#111" stroke-width="1" stroke-dasharray="2.9 2.25"/>
<path d="M34.5,251.1 L78.9,251.1 L78.9,318.7 L34.5,318.7 Z" fill="none" stroke="#111" stroke-width="1.15"/>
<line x1="31.30" y1="318.70" x2="34.50" y2="318.70" stroke="#111" stroke-width="1.1" />
<text transform="translate(28.30,321.80) scale(1,1.1)" font-size="7.7" text-anchor="end" stroke="#111" stroke-width="0.12" >0</text>
<line x1="31.30" y1="305.18" x2="34.50" y2="305.18" stroke="#111" stroke-width="1.1" />
<text transform="translate(28.30,308.28) scale(1,1.1)" font-size="7.7" text-anchor="end" stroke="#111" stroke-width="0.12" >10</text>
<line x1="31.30" y1="291.66" x2="34.50" y2="291.66" stroke="#111" stroke-width="1.1" />
<text transform="translate(28.30,294.76) scale(1,1.1)" font-size="7.7" text-anchor="end" stroke="#111" stroke-width="0.12" >20</text>
<line x1="31.30" y1="278.14" x2="34.50" y2="278.14" stroke="#111" stroke-width="1.1" />
<text transform="translate(28.30,281.24) scale(1,1.1)" font-size="7.7" text-anchor="end" stroke="#111" stroke-width="0.12" >30</text>
<line x1="31.30" y1="264.62" x2="34.50" y2="264.62" stroke="#111" stroke-width="1.1" />
<text transform="translate(28.30,267.72) scale(1,1.1)" font-size="7.7" text-anchor="end" stroke="#111" stroke-width="0.12" >40</text>
<line x1="31.30" y1="251.10" x2="34.50" y2="251.10" stroke="#111" stroke-width="1.1" />
<text transform="translate(28.30,254.20) scale(1,1.1)" font-size="7.7" text-anchor="end" stroke="#111" stroke-width="0.12" >50</text>
<text class="ylab" stroke="#111" stroke-width="0.22" transform="translate(14.8,284.9) rotate(-90)" font-size="7.9" text-anchor="middle" textLength="17.6" lengthAdjust="spacingAndGlyphs">pg/mL</text>
<line x1="127.70" y1="170.10" x2="127.70" y2="236.50" stroke="#111" stroke-width="1" stroke-dasharray="2.9 2.25"/>
<line x1="142.60" y1="170.10" x2="142.60" y2="236.50" stroke="#111" stroke-width="1" stroke-dasharray="2.9 2.25"/>
<path d="M112.5,168.5 L156.7,168.5 L156.7,236.5 L112.5,236.5 Z" fill="none" stroke="#111" stroke-width="1.15"/>
<line x1="109.30" y1="236.50" x2="112.50" y2="236.50" stroke="#111" stroke-width="1.1" />
<text transform="translate(106.30,239.60) scale(1,1.1)" font-size="7.7" text-anchor="end" stroke="#111" stroke-width="0.12" >0</text>
<line x1="109.30" y1="222.90" x2="112.50" y2="222.90" stroke="#111" stroke-width="1.1" />
<text transform="translate(106.30,226.00) scale(1,1.1)" font-size="7.7" text-anchor="end" stroke="#111" stroke-width="0.12" >2</text>
<line x1="109.30" y1="209.30" x2="112.50" y2="209.30" stroke="#111" stroke-width="1.1" />
<text transform="translate(106.30,212.40) scale(1,1.1)" font-size="7.7" text-anchor="end" stroke="#111" stroke-width="0.12" >4</text>
<line x1="109.30" y1="195.70" x2="112.50" y2="195.70" stroke="#111" stroke-width="1.1" />
<text transform="translate(106.30,198.80) scale(1,1.1)" font-size="7.7" text-anchor="end" stroke="#111" stroke-width="0.12" >6</text>
<line x1="109.30" y1="182.10" x2="112.50" y2="182.10" stroke="#111" stroke-width="1.1" />
<text transform="translate(106.30,185.20) scale(1,1.1)" font-size="7.7" text-anchor="end" stroke="#111" stroke-width="0.12" >8</text>
<line x1="109.30" y1="168.50" x2="112.50" y2="168.50" stroke="#111" stroke-width="1.1" />
<text transform="translate(106.30,171.60) scale(1,1.1)" font-size="7.7" text-anchor="end" stroke="#111" stroke-width="0.12" >10</text>
<text class="ylab" stroke="#111" stroke-width="0.22" transform="translate(94.6,202.7) rotate(-90)" font-size="7.9" text-anchor="middle" textLength="37.2" lengthAdjust="spacingAndGlyphs">pg/mL (x10<tspan font-size="5" dy="-2.9">4</tspan><tspan dy="2.9">)</tspan></text>
<text x="134.60" y="163.40" font-size="8.6" text-anchor="middle" stroke="#111" stroke-width="0.12" >IL-8</text>
<line x1="127.70" y1="252.70" x2="127.70" y2="318.70" stroke="#111" stroke-width="1" stroke-dasharray="2.9 2.25"/>
<line x1="142.60" y1="252.70" x2="142.60" y2="318.70" stroke="#111" stroke-width="1" stroke-dasharray="2.9 2.25"/>
<path d="M112.5,251.1 L156.7,251.1 L156.7,318.7 L112.5,318.7 Z" fill="none" stroke="#111" stroke-width="1.15"/>
<line x1="109.30" y1="318.70" x2="112.50" y2="318.70" stroke="#111" stroke-width="1.1" />
<text transform="translate(106.30,321.80) scale(1,1.1)" font-size="7.7" text-anchor="end" stroke="#111" stroke-width="0.12" >0</text>
<line x1="109.30" y1="305.18" x2="112.50" y2="305.18" stroke="#111" stroke-width="1.1" />
<text transform="translate(106.30,308.28) scale(1,1.1)" font-size="7.7" text-anchor="end" stroke="#111" stroke-width="0.12" >2</text>
<line x1="109.30" y1="291.66" x2="112.50" y2="291.66" stroke="#111" stroke-width="1.1" />
<text transform="translate(106.30,294.76) scale(1,1.1)" font-size="7.7" text-anchor="end" stroke="#111" stroke-width="0.12" >4</text>
<line x1="109.30" y1="278.14" x2="112.50" y2="278.14" stroke="#111" stroke-width="1.1" />
<text transform="translate(106.30,281.24) scale(1,1.1)" font-size="7.7" text-anchor="end" stroke="#111" stroke-width="0.12" >6</text>
<line x1="109.30" y1="264.62" x2="112.50" y2="264.62" stroke="#111" stroke-width="1.1" />
<text transform="translate(106.30,267.72) scale(1,1.1)" font-size="7.7" text-anchor="end" stroke="#111" stroke-width="0.12" >8</text>
<line x1="109.30" y1="251.10" x2="112.50" y2="251.10" stroke="#111" stroke-width="1.1" />
<text transform="translate(106.30,254.20) scale(1,1.1)" font-size="7.7" text-anchor="end" stroke="#111" stroke-width="0.12" >10</text>
<text class="ylab" stroke="#111" stroke-width="0.22" transform="translate(93.8,285.09999999999997) rotate(-90)" font-size="7.9" text-anchor="middle" textLength="37.2" lengthAdjust="spacingAndGlyphs">pg/mL (x10<tspan font-size="5" dy="-2.9">3</tspan><tspan dy="2.9">)</tspan></text>
<line x1="205.60" y1="170.10" x2="205.60" y2="236.50" stroke="#111" stroke-width="1" stroke-dasharray="2.9 2.25"/>
<line x1="220.20" y1="170.10" x2="220.20" y2="236.50" stroke="#111" stroke-width="1" stroke-dasharray="2.9 2.25"/>
<path d="M190.8,168.5 L234.5,168.5 L234.5,236.5 L190.8,236.5 Z" fill="none" stroke="#111" stroke-width="1.15"/>
<line x1="187.60" y1="236.50" x2="190.80" y2="236.50" stroke="#111" stroke-width="1.1" />
<text transform="translate(184.60,239.60) scale(1,1.1)" font-size="7.7" text-anchor="end" stroke="#111" stroke-width="0.12" >0</text>
<line x1="187.60" y1="213.83" x2="190.80" y2="213.83" stroke="#111" stroke-width="1.1" />
<text transform="translate(184.60,216.93) scale(1,1.1)" font-size="7.7" text-anchor="end" stroke="#111" stroke-width="0.12" >50</text>
<line x1="187.60" y1="191.17" x2="190.80" y2="191.17" stroke="#111" stroke-width="1.1" />
<text transform="translate(184.60,194.27) scale(1,1.1)" font-size="7.7" text-anchor="end" stroke="#111" stroke-width="0.12" >100</text>
<line x1="187.60" y1="168.50" x2="190.80" y2="168.50" stroke="#111" stroke-width="1.1" />
<text transform="translate(184.60,171.60) scale(1,1.1)" font-size="7.7" text-anchor="end" stroke="#111" stroke-width="0.12" >150</text>
<text class="ylab" stroke="#111" stroke-width="0.22" transform="translate(167.7,202.5) rotate(-90)" font-size="7.9" text-anchor="middle" textLength="17.6" lengthAdjust="spacingAndGlyphs">pg/mL</text>
<text x="212.65" y="163.40" font-size="8.6" text-anchor="middle" stroke="#111" stroke-width="0.12" >IL-10</text>
<line x1="205.60" y1="252.70" x2="205.60" y2="318.70" stroke="#111" stroke-width="1" stroke-dasharray="2.9 2.25"/>
<line x1="220.20" y1="252.70" x2="220.20" y2="318.70" stroke="#111" stroke-width="1" stroke-dasharray="2.9 2.25"/>
<path d="M190.8,251.1 L234.5,251.1 L234.5,318.7 L190.8,318.7 Z" fill="none" stroke="#111" stroke-width="1.15"/>
<line x1="187.60" y1="318.70" x2="190.80" y2="318.70" stroke="#111" stroke-width="1.1" />
<text transform="translate(185.70,321.80) scale(1,1.1)" font-size="7.7" text-anchor="end" stroke="#111" stroke-width="0.12" >0</text>
<line x1="187.60" y1="305.18" x2="190.80" y2="305.18" stroke="#111" stroke-width="1.1" />
<text transform="translate(185.70,308.28) scale(1,1.1)" font-size="7.7" text-anchor="end" stroke="#111" stroke-width="0.12" >20</text>
<line x1="187.60" y1="291.66" x2="190.80" y2="291.66" stroke="#111" stroke-width="1.1" />
<text transform="translate(185.70,294.76) scale(1,1.1)" font-size="7.7" text-anchor="end" stroke="#111" stroke-width="0.12" >40</text>
<line x1="187.60" y1="278.14" x2="190.80" y2="278.14" stroke="#111" stroke-width="1.1" />
<text transform="translate(185.70,281.24) scale(1,1.1)" font-size="7.7" text-anchor="end" stroke="#111" stroke-width="0.12" >60</text>
<line x1="187.60" y1="264.62" x2="190.80" y2="264.62" stroke="#111" stroke-width="1.1" />
<text transform="translate(185.70,267.72) scale(1,1.1)" font-size="7.7" text-anchor="end" stroke="#111" stroke-width="0.12" >80</text>
<line x1="187.60" y1="251.10" x2="190.80" y2="251.10" stroke="#111" stroke-width="1.1" />
<text transform="translate(185.70,254.20) scale(1,1.1)" font-size="7.7" text-anchor="end" stroke="#111" stroke-width="0.12" >100</text>
<text class="ylab" stroke="#111" stroke-width="0.22" transform="translate(168.2,284.9) rotate(-90)" font-size="7.9" text-anchor="middle" textLength="17.6" lengthAdjust="spacingAndGlyphs">pg/mL</text>
<line x1="284.60" y1="170.10" x2="284.60" y2="236.50" stroke="#111" stroke-width="1" stroke-dasharray="2.9 2.25"/>
<line x1="299.10" y1="170.10" x2="299.10" y2="236.50" stroke="#111" stroke-width="1" stroke-dasharray="2.9 2.25"/>
<path d="M269.5,168.5 L313.3,168.5 L313.3,236.5 L269.5,236.5 Z" fill="none" stroke="#111" stroke-width="1.15"/>
<line x1="266.30" y1="236.50" x2="269.50" y2="236.50" stroke="#111" stroke-width="1.1" />
<text transform="translate(263.30,239.60) scale(1,1.1)" font-size="7.7" text-anchor="end" stroke="#111" stroke-width="0.12" >0</text>
<line x1="266.30" y1="219.50" x2="269.50" y2="219.50" stroke="#111" stroke-width="1.1" />
<text transform="translate(263.30,222.60) scale(1,1.1)" font-size="7.7" text-anchor="end" stroke="#111" stroke-width="0.12" >50</text>
<line x1="266.30" y1="202.50" x2="269.50" y2="202.50" stroke="#111" stroke-width="1.1" />
<text transform="translate(263.30,205.60) scale(1,1.1)" font-size="7.7" text-anchor="end" stroke="#111" stroke-width="0.12" >100</text>
<line x1="266.30" y1="185.50" x2="269.50" y2="185.50" stroke="#111" stroke-width="1.1" />
<text transform="translate(263.30,188.60) scale(1,1.1)" font-size="7.7" text-anchor="end" stroke="#111" stroke-width="0.12" >150</text>
<line x1="266.30" y1="168.50" x2="269.50" y2="168.50" stroke="#111" stroke-width="1.1" />
<text transform="translate(263.30,171.60) scale(1,1.1)" font-size="7.7" text-anchor="end" stroke="#111" stroke-width="0.12" >200</text>
<text class="ylab" stroke="#111" stroke-width="0.22" transform="translate(245.6,202.5) rotate(-90)" font-size="7.9" text-anchor="middle" textLength="17.6" lengthAdjust="spacingAndGlyphs">pg/mL</text>
<text x="291.40" y="163.40" font-size="8.6" text-anchor="middle" stroke="#111" stroke-width="0.12" >IL-12</text>
<line x1="284.60" y1="252.70" x2="284.60" y2="318.70" stroke="#111" stroke-width="1" stroke-dasharray="2.9 2.25"/>
<line x1="299.10" y1="252.70" x2="299.10" y2="318.70" stroke="#111" stroke-width="1" stroke-dasharray="2.9 2.25"/>
<path d="M269.5,251.1 L313.3,251.1 L313.3,318.7 L269.5,318.7 Z" fill="none" stroke="#111" stroke-width="1.15"/>
<line x1="266.30" y1="318.70" x2="269.50" y2="318.70" stroke="#111" stroke-width="1.1" />
<text transform="translate(263.30,321.80) scale(1,1.1)" font-size="7.7" text-anchor="end" stroke="#111" stroke-width="0.12" >0</text>
<line x1="266.30" y1="301.80" x2="269.50" y2="301.80" stroke="#111" stroke-width="1.1" />
<text transform="translate(263.30,304.90) scale(1,1.1)" font-size="7.7" text-anchor="end" stroke="#111" stroke-width="0.12" >50</text>
<line x1="266.30" y1="284.90" x2="269.50" y2="284.90" stroke="#111" stroke-width="1.1" />
<text transform="translate(263.30,288.00) scale(1,1.1)" font-size="7.7" text-anchor="end" stroke="#111" stroke-width="0.12" >100</text>
<line x1="266.30" y1="268.00" x2="269.50" y2="268.00" stroke="#111" stroke-width="1.1" />
<text transform="translate(263.30,271.10) scale(1,1.1)" font-size="7.7" text-anchor="end" stroke="#111" stroke-width="0.12" >150</text>
<line x1="266.30" y1="251.10" x2="269.50" y2="251.10" stroke="#111" stroke-width="1.1" />
<text transform="translate(263.30,254.20) scale(1,1.1)" font-size="7.7" text-anchor="end" stroke="#111" stroke-width="0.12" >200</text>
<text class="ylab" stroke="#111" stroke-width="0.22" transform="translate(245.7,284.9) rotate(-90)" font-size="7.9" text-anchor="middle" textLength="17.6" lengthAdjust="spacingAndGlyphs">pg/mL</text>
<line x1="357.20" y1="170.10" x2="357.20" y2="236.50" stroke="#111" stroke-width="1" stroke-dasharray="2.9 2.25"/>
<line x1="372.00" y1="170.10" x2="372.00" y2="236.50" stroke="#111" stroke-width="1" stroke-dasharray="2.9 2.25"/>
<path d="M342.4,168.5 L386.1,168.5 L386.1,236.5 L342.4,236.5 Z" fill="none" stroke="#111" stroke-width="1.15"/>
<line x1="339.20" y1="236.50" x2="342.40" y2="236.50" stroke="#111" stroke-width="1.1" />
<text transform="translate(336.20,239.60) scale(1,1.1)" font-size="7.7" text-anchor="end" stroke="#111" stroke-width="0.12" >0</text>
<line x1="339.20" y1="219.50" x2="342.40" y2="219.50" stroke="#111" stroke-width="1.1" />
<text transform="translate(336.20,222.60) scale(1,1.1)" font-size="7.7" text-anchor="end" stroke="#111" stroke-width="0.12" >1</text>
<line x1="339.20" y1="202.50" x2="342.40" y2="202.50" stroke="#111" stroke-width="1.1" />
<text transform="translate(336.20,205.60) scale(1,1.1)" font-size="7.7" text-anchor="end" stroke="#111" stroke-width="0.12" >2</text>
<line x1="339.20" y1="185.50" x2="342.40" y2="185.50" stroke="#111" stroke-width="1.1" />
<text transform="translate(336.20,188.60) scale(1,1.1)" font-size="7.7" text-anchor="end" stroke="#111" stroke-width="0.12" >3</text>
<line x1="339.20" y1="168.50" x2="342.40" y2="168.50" stroke="#111" stroke-width="1.1" />
<text transform="translate(336.20,171.60) scale(1,1.1)" font-size="7.7" text-anchor="end" stroke="#111" stroke-width="0.12" >4</text>
<text class="ylab" stroke="#111" stroke-width="0.22" transform="translate(329.2,202.7) rotate(-90)" font-size="7.9" text-anchor="middle" textLength="37.2" lengthAdjust="spacingAndGlyphs">pg/mL (x10<tspan font-size="5" dy="-2.9">2</tspan><tspan dy="2.9">)</tspan></text>
<text x="364.25" y="163.40" font-size="8.6" text-anchor="middle" stroke="#111" stroke-width="0.12" >IL-1<tspan font-family="Liberation Serif" font-size="9.4">β</tspan></text>
<line x1="357.20" y1="252.70" x2="357.20" y2="318.70" stroke="#111" stroke-width="1" stroke-dasharray="2.9 2.25"/>
<line x1="372.00" y1="252.70" x2="372.00" y2="318.70" stroke="#111" stroke-width="1" stroke-dasharray="2.9 2.25"/>
<path d="M342.4,251.1 L386.1,251.1 L386.1,318.7 L342.4,318.7 Z" fill="none" stroke="#111" stroke-width="1.15"/>
<line x1="339.20" y1="318.70" x2="342.40" y2="318.70" stroke="#111" stroke-width="1.1" />
<text transform="translate(336.20,321.80) scale(1,1.1)" font-size="7.7" text-anchor="end" stroke="#111" stroke-width="0.12" >0</text>
<line x1="339.20" y1="301.80" x2="342.40" y2="301.80" stroke="#111" stroke-width="1.1" />
<text transform="translate(336.20,304.90) scale(1,1.1)" font-size="7.7" text-anchor="end" stroke="#111" stroke-width="0.12" >1</text>
<line x1="339.20" y1="284.90" x2="342.40" y2="284.90" stroke="#111" stroke-width="1.1" />
<text transform="translate(336.20,288.00) scale(1,1.1)" font-size="7.7" text-anchor="end" stroke="#111" stroke-width="0.12" >2</text>
<line x1="339.20" y1="268.00" x2="342.40" y2="268.00" stroke="#111" stroke-width="1.1" />
<text transform="translate(336.20,271.10) scale(1,1.1)" font-size="7.7" text-anchor="end" stroke="#111" stroke-width="0.12" >3</text>
<line x1="339.20" y1="251.10" x2="342.40" y2="251.10" stroke="#111" stroke-width="1.1" />
<text transform="translate(336.20,254.20) scale(1,1.1)" font-size="7.7" text-anchor="end" stroke="#111" stroke-width="0.12" >4</text>
<text class="ylab" stroke="#111" stroke-width="0.22" transform="translate(329.2,285.09999999999997) rotate(-90)" font-size="7.9" text-anchor="middle" textLength="37.2" lengthAdjust="spacingAndGlyphs">pg/mL (x10<tspan font-size="5" dy="-2.9">2</tspan><tspan dy="2.9">)</tspan></text>
<line x1="430.40" y1="170.10" x2="430.40" y2="236.50" stroke="#111" stroke-width="1" stroke-dasharray="2.9 2.25"/>
<line x1="445.20" y1="170.10" x2="445.20" y2="236.50" stroke="#111" stroke-width="1" stroke-dasharray="2.9 2.25"/>
<path d="M415.5,168.5 L459.4,168.5 L459.4,236.5 L415.5,236.5 Z" fill="none" stroke="#111" stroke-width="1.15"/>
<line x1="412.30" y1="236.50" x2="415.50" y2="236.50" stroke="#111" stroke-width="1.1" />
<text transform="translate(409.30,239.60) scale(1,1.1)" font-size="7.7" text-anchor="end" stroke="#111" stroke-width="0.12" >0</text>
<line x1="412.30" y1="219.50" x2="415.50" y2="219.50" stroke="#111" stroke-width="1.1" />
<text transform="translate(409.30,222.60) scale(1,1.1)" font-size="7.7" text-anchor="end" stroke="#111" stroke-width="0.12" >1</text>
<line x1="412.30" y1="202.50" x2="415.50" y2="202.50" stroke="#111" stroke-width="1.1" />
<text transform="translate(409.30,205.60) scale(1,1.1)" font-size="7.7" text-anchor="end" stroke="#111" stroke-width="0.12" >2</text>
<line x1="412.30" y1="185.50" x2="415.50" y2="185.50" stroke="#111" stroke-width="1.1" />
<text transform="translate(409.30,188.60) scale(1,1.1)" font-size="7.7" text-anchor="end" stroke="#111" stroke-width="0.12" >3</text>
<line x1="412.30" y1="168.50" x2="415.50" y2="168.50" stroke="#111" stroke-width="1.1" />
<text transform="translate(409.30,171.60) scale(1,1.1)" font-size="7.7" text-anchor="end" stroke="#111" stroke-width="0.12" >4</text>
<text class="ylab" stroke="#111" stroke-width="0.22" transform="translate(400.8,202.7) rotate(-90)" font-size="7.9" text-anchor="middle" textLength="37.2" lengthAdjust="spacingAndGlyphs">pg/mL (x10<tspan font-size="5" dy="-2.9">3</tspan><tspan dy="2.9">)</tspan></text>
<text x="437.45" y="163.40" font-size="8.6" text-anchor="middle" stroke="#111" stroke-width="0.12" >TNF<tspan font-family="Liberation Serif" font-size="9.4">α</tspan></text>
<line x1="430.40" y1="252.70" x2="430.40" y2="318.70" stroke="#111" stroke-width="1" stroke-dasharray="2.9 2.25"/>
<line x1="445.20" y1="252.70" x2="445.20" y2="318.70" stroke="#111" stroke-width="1" stroke-dasharray="2.9 2.25"/>
<path d="M415.5,251.1 L459.4,251.1 L459.4,318.7 L415.5,318.7 Z" fill="none" stroke="#111" stroke-width="1.15"/>
<line x1="412.30" y1="318.70" x2="415.50" y2="318.70" stroke="#111" stroke-width="1.1" />
<text transform="translate(409.30,321.80) scale(1,1.1)" font-size="7.7" text-anchor="end" stroke="#111" stroke-width="0.12" >0</text>
<line x1="412.30" y1="301.80" x2="415.50" y2="301.80" stroke="#111" stroke-width="1.1" />
<text transform="translate(409.30,304.90) scale(1,1.1)" font-size="7.7" text-anchor="end" stroke="#111" stroke-width="0.12" >1</text>
<line x1="412.30" y1="284.90" x2="415.50" y2="284.90" stroke="#111" stroke-width="1.1" />
<text transform="translate(409.30,288.00) scale(1,1.1)" font-size="7.7" text-anchor="end" stroke="#111" stroke-width="0.12" >2</text>
<line x1="412.30" y1="268.00" x2="415.50" y2="268.00" stroke="#111" stroke-width="1.1" />
<text transform="translate(409.30,271.10) scale(1,1.1)" font-size="7.7" text-anchor="end" stroke="#111" stroke-width="0.12" >3</text>
<line x1="412.30" y1="251.10" x2="415.50" y2="251.10" stroke="#111" stroke-width="1.1" />
<text transform="translate(409.30,254.20) scale(1,1.1)" font-size="7.7" text-anchor="end" stroke="#111" stroke-width="0.12" >4</text>
<text class="ylab" stroke="#111" stroke-width="0.22" transform="translate(400.8,285.09999999999997) rotate(-90)" font-size="7.9" text-anchor="middle" textLength="37.2" lengthAdjust="spacingAndGlyphs">pg/mL (x10<tspan font-size="5" dy="-2.9">3</tspan><tspan dy="2.9">)</tspan></text>
<rect x="36.85" y="234.85" width="3.30" height="3.30" fill="#4f9bd9" stroke="none" stroke-width="1"/>
<circle cx="45.40" cy="236.50" r="1.7" fill="#4f9bd9"/>
<rect x="54.75" y="174.35" width="3.30" height="3.30" fill="#509a22" stroke="none" stroke-width="1"/>
<circle cx="56.40" cy="185.10" r="1.7" fill="#509a22"/>
<rect x="69.75" y="232.15" width="3.30" height="3.30" fill="#7869b8" stroke="none" stroke-width="1"/>
<circle cx="71.40" cy="231.20" r="1.7" fill="#7869b8"/>
<circle cx="116.50" cy="234.70" r="1.7" fill="#4f9bd9"/>
<rect x="121.95" y="231.85" width="3.30" height="3.30" fill="#4f9bd9" stroke="none" stroke-width="1"/>
<circle cx="131.20" cy="203.20" r="1.7" fill="#509a22"/>
<rect x="136.35" y="201.25" width="3.30" height="3.30" fill="#509a22" stroke="none" stroke-width="1"/>
<rect x="147.75" y="194.55" width="3.30" height="3.30" fill="#7869b8" stroke="none" stroke-width="1"/>
<circle cx="149.40" cy="207.70" r="1.7" fill="#7869b8"/>
<rect x="196.35" y="201.65" width="3.30" height="3.30" fill="#4f9bd9" stroke="none" stroke-width="1"/>
<circle cx="198.00" cy="217.00" r="1.7" fill="#4f9bd9"/>
<rect x="211.05" y="189.45" width="3.30" height="3.30" fill="#509a22" stroke="none" stroke-width="1"/>
<circle cx="212.70" cy="217.60" r="1.7" fill="#509a22"/>
<rect x="225.45" y="200.15" width="3.30" height="3.30" fill="#7869b8" stroke="none" stroke-width="1"/>
<circle cx="227.10" cy="213.80" r="1.7" fill="#7869b8"/>
<circle cx="273.50" cy="207.10" r="1.7" fill="#4f9bd9"/>
<rect x="278.95" y="203.55" width="3.30" height="3.30" fill="#4f9bd9" stroke="none" stroke-width="1"/>
<circle cx="287.90" cy="222.60" r="1.7" fill="#509a22"/>
<rect x="293.35" y="220.45" width="3.30" height="3.30" fill="#509a22" stroke="none" stroke-width="1"/>
<rect x="300.95" y="218.65" width="3.30" height="3.30" fill="#7869b8" stroke="none" stroke-width="1"/>
<circle cx="309.40" cy="218.50" r="1.7" fill="#7869b8"/>
<rect x="344.45" y="230.45" width="3.30" height="3.30" fill="#4f9bd9" stroke="none" stroke-width="1"/>
<circle cx="353.00" cy="230.60" r="1.7" fill="#4f9bd9"/>
<rect x="362.55" y="205.35" width="3.30" height="3.30" fill="#509a22" stroke="none" stroke-width="1"/>
<circle cx="364.20" cy="211.20" r="1.7" fill="#509a22"/>
<rect x="373.85" y="213.35" width="3.30" height="3.30" fill="#7869b8" stroke="none" stroke-width="1"/>
<circle cx="382.10" cy="212.70" r="1.7" fill="#7869b8"/>
<rect x="421.25" y="170.75" width="3.30" height="3.30" fill="#4f9bd9" stroke="none" stroke-width="1"/>
<circle cx="422.90" cy="183.00" r="1.7" fill="#4f9bd9"/>
<rect x="432.25" y="228.15" width="3.30" height="3.30" fill="#509a22" stroke="none" stroke-width="1"/>
<circle cx="441.10" cy="227.10" r="1.7" fill="#509a22"/>
<circle cx="451.80" cy="226.80" r="1.7" fill="#7869b8"/>
<rect x="450.15" y="228.75" width="3.30" height="3.30" fill="#7869b8" stroke="none" stroke-width="1"/>
<circle cx="41.80" cy="283.00" r="1.7" fill="#4f9bd9"/>
<rect x="40.15" y="291.15" width="3.30" height="3.30" fill="#4f9bd9" stroke="none" stroke-width="1"/>
<rect x="55.05" y="255.45" width="3.30" height="3.30" fill="#509a22" stroke="none" stroke-width="1"/>
<circle cx="56.70" cy="268.80" r="1.7" fill="#509a22"/>
<rect x="69.75" y="296.05" width="3.30" height="3.30" fill="#7869b8" stroke="none" stroke-width="1"/>
<circle cx="71.40" cy="308.00" r="1.7" fill="#7869b8"/>
<circle cx="119.80" cy="286.20" r="1.7" fill="#4f9bd9"/>
<rect x="118.15" y="297.75" width="3.30" height="3.30" fill="#4f9bd9" stroke="none" stroke-width="1"/>
<rect x="132.85" y="269.85" width="3.30" height="3.30" fill="#509a22" stroke="none" stroke-width="1"/>
<circle cx="134.50" cy="283.90" r="1.7" fill="#509a22"/>
<rect x="147.75" y="274.75" width="3.30" height="3.30" fill="#7869b8" stroke="none" stroke-width="1"/>
<circle cx="149.40" cy="288.90" r="1.7" fill="#7869b8"/>
<rect x="197.15" y="267.05" width="3.30" height="3.30" fill="#4f9bd9" stroke="none" stroke-width="1"/>
<circle cx="198.80" cy="289.30" r="1.7" fill="#4f9bd9"/>
<rect x="211.35" y="294.65" width="3.30" height="3.30" fill="#509a22" stroke="none" stroke-width="1"/>
<circle cx="213.00" cy="306.30" r="1.7" fill="#509a22"/>
<circle cx="227.50" cy="301.00" r="1.7" fill="#7869b8"/>
<rect x="225.85" y="307.15" width="3.30" height="3.30" fill="#7869b8" stroke="none" stroke-width="1"/>
<circle cx="273.20" cy="289.80" r="1.7" fill="#4f9bd9"/>
<rect x="278.35" y="286.25" width="3.30" height="3.30" fill="#4f9bd9" stroke="none" stroke-width="1"/>
<rect x="289.55" y="275.35" width="3.30" height="3.30" fill="#509a22" stroke="none" stroke-width="1"/>
<circle cx="291.20" cy="297.80" r="1.7" fill="#509a22"/>
<rect x="304.05" y="294.95" width="3.30" height="3.30" fill="#7869b8" stroke="none" stroke-width="1"/>
<circle cx="305.70" cy="305.10" r="1.7" fill="#7869b8"/>
<circle cx="346.00" cy="318.40" r="1.7" fill="#4f9bd9"/>
<rect x="351.35" y="316.75" width="3.30" height="3.30" fill="#4f9bd9" stroke="none" stroke-width="1"/>
<rect x="363.05" y="263.45" width="3.30" height="3.30" fill="#509a22" stroke="none" stroke-width="1"/>
<circle cx="364.70" cy="275.80" r="1.7" fill="#509a22"/>
<rect x="377.35" y="264.65" width="3.30" height="3.30" fill="#7869b8" stroke="none" stroke-width="1"/>
<circle cx="379.00" cy="270.50" r="1.7" fill="#7869b8"/>
<rect x="421.55" y="255.95" width="3.30" height="3.30" fill="#4f9bd9" stroke="none" stroke-width="1"/>
<circle cx="423.20" cy="280.20" r="1.7" fill="#4f9bd9"/>
<circle cx="437.80" cy="291.10" r="1.7" fill="#509a22"/>
<rect x="436.15" y="296.65" width="3.30" height="3.30" fill="#509a22" stroke="none" stroke-width="1"/>
<circle cx="452.50" cy="299.50" r="1.7" fill="#7869b8"/>
<rect x="450.85" y="307.55" width="3.30" height="3.30" fill="#7869b8" stroke="none" stroke-width="1"/>
<line x1="483.50" y1="170.10" x2="483.50" y2="235.40" stroke="#111" stroke-width="1" stroke-dasharray="2.9 2.25"/>
<line x1="497.60" y1="194.80" x2="497.60" y2="235.40" stroke="#111" stroke-width="1" stroke-dasharray="2.9 2.25"/>
<path d="M468.0,168.3 L512.3,168.3 L512.3,236.4 L468.0,236.4 Z" fill="none" stroke="#111" stroke-width="1.3"/>
<line x1="468.0" y1="168.3" x2="468.0" y2="236.4" stroke="#111" stroke-width="2"/>
<text x="497.00" y="176.10" font-size="7.4" text-anchor="middle" stroke="#111" stroke-width="0.12" >THP-1</text>
<text x="497.20" y="183.60" font-size="7.1" text-anchor="middle" stroke="#111" stroke-width="0.12" >(unfiff.)</text>
<text x="497.50" y="192.30" font-size="8.0" text-anchor="middle" stroke="#111" stroke-width="0.15">+</text>
<path d="M475.2,167.6 C478,165 482,161.4 485.2,160.6 C488.2,159.9 491.2,161.2 494.6,165.3" fill="none" stroke="#111" stroke-width="0.95"/>
<path d="M493.3,165.2 L496.5,163.9 L496.4,167.6 Z" fill="#111"/>
<text transform="translate(477.2,229.20000000000002) rotate(-90)" font-size="7.5" fill="#4f9bd9" textLength="54.2" lengthAdjust="spacingAndGlyphs">CAR + ALL sup.</text>
<text transform="translate(492.6,218.1) rotate(-90)" font-size="7.2" fill="#509a22">CAR</text>
<text transform="translate(507.2,219.6) rotate(-90)" font-size="7.2" fill="#7869b8">DUAL</text>
<line x1="483.50" y1="252.20" x2="483.50" y2="317.90" stroke="#111" stroke-width="1" stroke-dasharray="2.9 2.25"/>
<line x1="497.60" y1="276.90" x2="497.60" y2="317.90" stroke="#111" stroke-width="1" stroke-dasharray="2.9 2.25"/>
<path d="M468.0,250.4 L512.3,250.4 L512.3,318.9 L468.0,318.9 Z" fill="none" stroke="#111" stroke-width="1.3"/>
<line x1="468.0" y1="250.4" x2="468.0" y2="318.9" stroke="#111" stroke-width="2"/>
<text x="497.00" y="258.20" font-size="7.4" text-anchor="middle" stroke="#111" stroke-width="0.12" >THP-1</text>
<text x="497.20" y="265.70" font-size="7.1" text-anchor="middle" stroke="#111" stroke-width="0.12" >(diff.)</text>
<text x="497.50" y="274.40" font-size="8.0" text-anchor="middle" stroke="#111" stroke-width="0.15">+</text>
<path d="M475.2,249.8 C478,247 482,245.7 487,245.6 C490.5,245.6 492.5,246.5 494.5,247.7" fill="none" stroke="#111" stroke-width="0.95"/>
<path d="M493.4,246.4 L496.4,246.4 L495.8,249.3 Z" fill="#111"/>
<text transform="translate(477.2,311.7) rotate(-90)" font-size="7.5" fill="#4f9bd9" textLength="54.2" lengthAdjust="spacingAndGlyphs">CAR + ALL sup.</text>
<text transform="translate(492.6,300.59999999999997) rotate(-90)" font-size="7.2" fill="#509a22">CAR</text>
<text transform="translate(507.2,302.09999999999997) rotate(-90)" font-size="7.2" fill="#7869b8">DUAL</text>
<rect x="0.5" y="0.5" width="519" height="329" fill="none" stroke="#000" stroke-width="1"/>
</svg></body></html>
